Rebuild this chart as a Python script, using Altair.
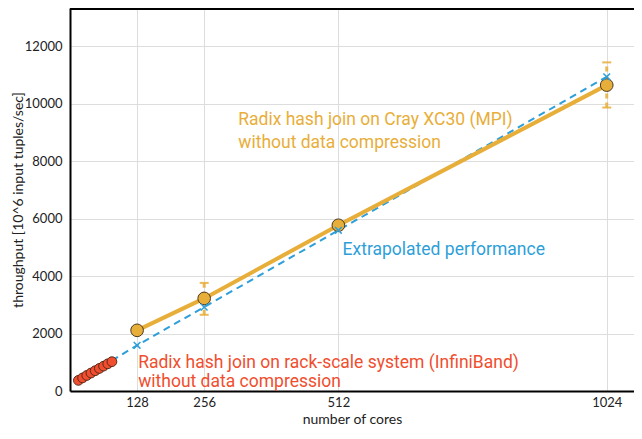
import altair as alt
import pandas as pd

# ---- data ----
cray_cores = [128, 256, 512, 1024]
cray_tput = [2110, 3220, 5765, 10640]
cray_low = [2060, 2650, 5720, 9860]
cray_high = [2160, 3760, 5810, 11430]

rack_cores = [16, 24, 32, 40, 48, 56, 64, 72, 80]
rack_tput = [370, 455, 540, 625, 705, 785, 865, 945, 1020]

extra_cores = [80, 128, 256, 512, 1024]
extra_tput = [1060, 1590, 2920, 5590, 10930]

x_ticks = [128, 256, 512, 1024]
y_ticks = [0, 2000, 4000, 6000, 8000, 10000, 12000]

ORANGE = "#E8AE3A"
BLUE = "#2E9FD9"
RED = "#F04E2E"
FONT = "Lato"
ANN_FONT = "Roboto"

cray = pd.DataFrame({"cores": cray_cores, "tput": cray_tput, "low": cray_low, "high": cray_high})
rack = pd.DataFrame({"cores": rack_cores, "tput": rack_tput})
extra = pd.DataFrame({"cores": extra_cores, "tput": extra_tput})
extra_pts = extra[extra["cores"] >= 128]

W, H = 564, 383
xs = alt.Scale(domain=[0, 1076], nice=False, zero=True)
ys = alt.Scale(domain=[0, 13322], nice=False, zero=True)

X = alt.X("cores:Q", scale=xs,
          axis=alt.Axis(values=x_ticks, format="d", title="number of cores", grid=True, ticks=False,
                        labelPadding=5, titlePadding=3))
Y = alt.Y("tput:Q", scale=ys,
          axis=alt.Axis(values=y_ticks, format="d", title="throughput [10^6 input tuples/sec]", grid=True,
                        ticks=False, labelPadding=8, titleX=-45))

blue_line = alt.Chart(extra).mark_line(color=BLUE, strokeWidth=2, strokeDash=[7, 5]).encode(x=X, y=Y)
orange_line = alt.Chart(cray).mark_line(color=ORANGE, strokeWidth=4).encode(x=X, y=Y)

err = alt.Chart(cray).mark_rule(color=ORANGE, strokeWidth=3, strokeDash=[5, 4], opacity=0.85).encode(
    x=X, y=alt.Y("low:Q", scale=ys), y2="high:Q")
cap_hi = alt.Chart(cray).mark_tick(color=ORANGE, thickness=2, size=9, orient="horizontal", opacity=0.85).encode(
    x=X, y=alt.Y("high:Q", scale=ys))
cap_lo = alt.Chart(cray).mark_tick(color=ORANGE, thickness=2, size=9, orient="horizontal", opacity=0.85).encode(
    x=X, y=alt.Y("low:Q", scale=ys))

rack_pts = alt.Chart(rack).mark_point(filled=True, size=95, color=RED, stroke="#5a2a1a",
                                      strokeWidth=1, opacity=1).encode(x=X, y=Y)
cray_pts = alt.Chart(cray).mark_point(filled=True, size=160, color=ORANGE, stroke="#4a3a20",
                                      strokeWidth=1, opacity=1).encode(x=X, y=Y)
x_marks = alt.Chart(extra_pts).mark_point(shape="M-1,-1L1,1M-1,1L1,-1", filled=False, size=45,
                                          color=BLUE, strokeWidth=1.5, opacity=1).encode(x=X, y=Y)

def label(txt, cx, cy, color):
    return alt.Chart(pd.DataFrame({"t": [txt]})).mark_text(
        align="left", baseline="alphabetic", font=ANN_FONT, fontSize=17.5, color=color
    ).encode(x=alt.datum(cx, scale=xs), y=alt.datum(cy, scale=ys), text="t:N")

texts = [
    label("Radix hash join on Cray XC30 (MPI)", 321, 9252, ORANGE),
    label("without data compression", 321, 8442, ORANGE),
    label("Extrapolated performance", 520, 4730, BLUE),
    label("Radix hash join on rack-scale system (InfiniBand)", 130, 790, RED),
    label("without data compression", 130, 129, RED),
]

top_border = alt.Chart(pd.DataFrame({"a": [0]})).mark_rule(color="black", strokeWidth=2).encode(
    y=alt.value(1), x=alt.value(0), x2=alt.value(W))

chart = alt.layer(
    blue_line, orange_line, err, cap_hi, cap_lo, rack_pts, cray_pts, x_marks, *texts, top_border
).properties(
    width=W, height=H,
    autosize=alt.AutoSizeParams(type="none"),
    padding={"left": 62, "top": 0, "right": 0, "bottom": 34},
).configure_view(stroke=None).configure_axis(
    domainColor="black", domainWidth=2, gridColor="#dddddd", gridWidth=1,
    labelFont=FONT, labelFontSize=13, labelColor="#222", titleFont=FONT, titleFontSize=14,
    titleFontWeight="normal", titleColor="#222",
)

chart.save("out.html", embed_options={"renderer": "svg", "actions": False})
